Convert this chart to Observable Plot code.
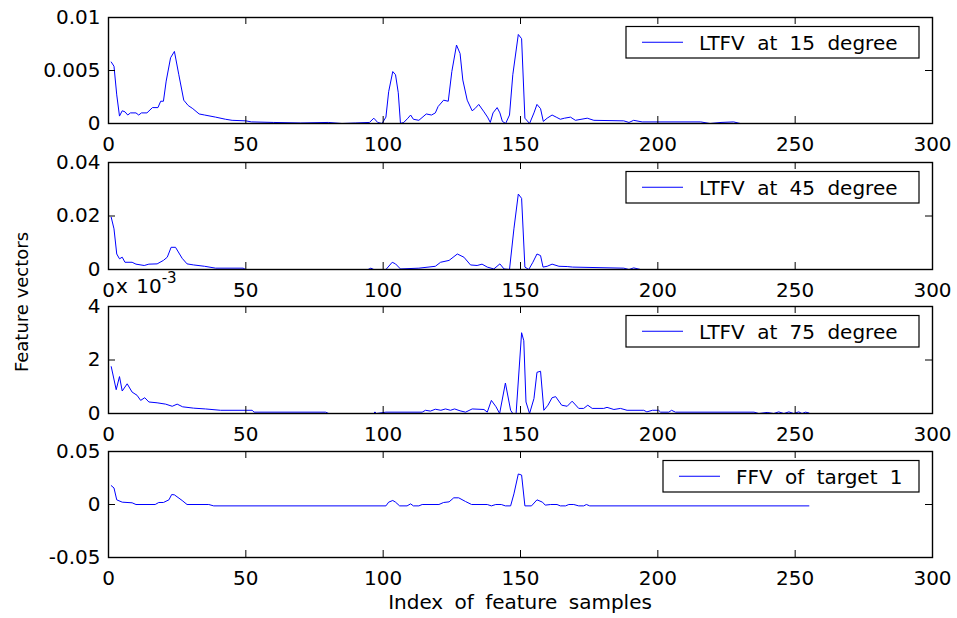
<!DOCTYPE html>
<html>
<head>
<meta charset="utf-8">
<script src="https://cdn.jsdelivr.net/npm/d3@7"></script>
<script src="https://cdn.jsdelivr.net/npm/@observablehq/plot@0.6"></script>
<style>
  html, body { margin: 0; padding: 0; background: white; }
  #root { position: relative; width: 957px; height: 618px; overflow: hidden; background: white; }
  .panel { position: absolute; left: 0; }
  #overlay { position: absolute; left: 0; top: 0; pointer-events: none; }
  svg text { font-family: "DejaVu Sans", sans-serif; }
</style>
</head>
<body>
<div id="root"></div>
<script>
// ---------------- DATA ----------------
const xTicks = [0, 50, 100, 150, 200, 250, 300];

const legend15 = "LTFV at 15 degree";
const legend45 = "LTFV at 45 degree";
const legend75 = "LTFV at 75 degree";
const legendF = "FFV of target 1";
const xTitle = "Index of feature samples";
const yTitle = "Feature vectors";

const y15Ticks = [0, 0.005, 0.01];
const y45Ticks = [0, 0.02, 0.04];
const y75Ticks = [0, 2, 4];          // in units of 10^-3
const yFTicks = [-0.05, 0, 0.05];

const ltfv15X = [1,2,3,4,5,6,7,8,10,11,12,14,16,18,19,20,21,22.6,24,25.6,27.4,29,30.7,33,35,39,42.6,45,50,52,60,70,80,85,90,95,96.6,98,99.6,101,102,103.5,104.5,105.5,106.3,107.5,109,110,111,113,115.7,117.6,119,120,122,123.7,125,126.7,128,129,130.6,132.4,133.4,134.8,136.7,138,139,140,141.5,142.5,143.4,144.6,146,147.2,149.2,150.4,151.6,153.3,154.9,156,157.3,158.3,159.7,161.5,163,164.5,166,168.2,170,174.3,176.7,187.6,189.5,191.2,194.3,215.6,219,223,227.6,230,255];
const ltfv15Y = [0.0058,0.0054,0.0027,0.0007,0.0012,0.0011,0.0008,0.0010,0.0010,0.0008,0.0010,0.0010,0.0015,0.0015,0.0021,0.0021,0.0040,0.0062,0.0068,0.0046,0.0022,0.0017,0.0014,0.0009,0.0008,0.0006,0.0004,0.0003,0.00025,0.00015,0.0001,0.00005,0.0001,0,0.00005,0.0001,0.0005,0.0001,0,0.0006,0.0030,0.0049,0.0046,0.0029,0,0.0001,0.0005,0.0008,0.0004,0.0003,0.0009,0.0008,0.0010,0.0016,0.0022,0.0021,0.0049,0.0074,0.0066,0.0041,0.0022,0.0012,0.0014,0.0018,0.0011,0.0006,0.0001,0.0010,0.0015,0.0010,0.0002,0,0.0008,0.0046,0.0084,0.0080,0.0005,0,0.0010,0.0018,0.0014,0.0002,0.0005,0.0008,0.0006,0.0004,0.0005,0.0006,0.0003,0.0005,0.0003,0.00025,0.0001,0.0003,0.00015,0.00015,0,0.0001,0.00015,0,0];

const ltfv45X = [1,2,3,4,5,6,8.6,10,13,14.7,17.7,20,21.4,22.8,24.4,26.8,28.6,31,35,39,49,50,94.5,95.5,96.6,101,103.3,104.5,106.3,113,119,120.9,124,127,129.4,131.8,134.2,136,137.9,140.3,142.5,144,146,147.6,149.2,150.4,151.6,153,154.5,156,157.3,158.2,159.7,161.5,164,167,169,187.6,189.5,191.2,193.7,255];
const ltfv45Y = [0.0195,0.0152,0.0058,0.0040,0.0046,0.0027,0.0027,0.0020,0.0015,0.0020,0.0021,0.0034,0.0046,0.0083,0.0083,0.0042,0.0021,0.0017,0.0012,0.0005,0.0005,0,0,0.0005,0,0,0.0027,0.0021,0.0002,0.0005,0.0012,0.0027,0.0034,0.0058,0.0046,0.0017,0.0015,0.0020,0.0009,0.0002,0.0021,0.0002,0,0.0152,0.0282,0.0266,0.0009,0,0.0027,0.0058,0.0052,0.0009,0.0012,0.0020,0.0012,0.0011,0.0009,0.0005,0,0.0006,0,0];

const ltfv75X = [1,2.8,4,5,6.8,8.6,10.4,11.7,13.2,14.7,17.7,20.8,23.2,25,27,31,35.3,40.8,52.3,53,79,80.2,96.6,97,97.5,101,114.2,115.4,117.2,119,121,122.7,124.5,126,128,130,132.4,136.7,137.9,139.4,141.1,142.4,144.5,146.4,147.2,148.4,150.4,151.2,152,153.3,154.9,156,157.3,158.5,160,161.5,162.8,165,167,168.8,171.2,173,174.5,176.1,180.3,181.5,184,186.4,188.8,194.9,196,198,200.3,201,204,205,206.4,235,236.8,239.8,242.2,244,245.9,247.7,249.5,251.3,252.5,253.8,255];
const ltfv75Y = [1.75,0.89,1.38,0.84,1.11,0.80,0.68,0.49,0.59,0.43,0.40,0.35,0.27,0.35,0.25,0.20,0.17,0.12,0.12,0.05,0.05,0,0,0.06,0,0.05,0.05,0.12,0.09,0.16,0.12,0.17,0.12,0.17,0.10,0.05,0.17,0.15,0.05,0.49,0.25,0,1.14,0.12,0,0,3.02,2.72,0.43,0,0.56,1.54,1.58,0.12,0.31,0.59,0.63,0.31,0.27,0.46,0.19,0.19,0.31,0.19,0.19,0.23,0.15,0.19,0.12,0.12,0.06,0.12,0.12,0.05,0.05,0.12,0.05,0.05,0,0.04,0,0.06,0,0.06,0,0.06,0,0.05,0.02];

const ffvX = [1,2,3,5,8.6,10,17,18.3,20,22,23,24,26.8,28.6,36.5,38.3,101,102,103.5,104.5,106,108.7,110,111,113,114.2,120.3,122,124,125.7,127.5,130,132.2,137.9,139.4,141,143,144.5,146.4,147.6,149.2,150.4,151.6,154,156,158,159,161,163.3,164.5,166.4,167.6,169.4,171.2,173,174,175.2,255];
const ffvY = [0.0178,0.0156,0.0044,0.0022,0.0016,0,0,0.0019,0.0019,0.0044,0.0094,0.0091,0.0038,0,0,-0.0013,-0.0013,0.0022,0.0038,0.0022,-0.0013,-0.0013,0.0006,-0.0013,-0.0013,0,0,0.0019,0.0025,0.0063,0.0063,0.0028,0,0,-0.0013,0,0,-0.0013,-0.0013,0.0100,0.0288,0.0278,-0.0013,-0.0013,0.0044,0.0022,-0.0006,0,0,-0.0013,-0.0013,0,0,-0.0013,-0.0013,0,-0.0013,-0.0013];

// ---------------- LAYOUT ----------------
const W = 957, ML = 108, MR = 25;
const innerW = W - ML - MR;
const FONT = "DejaVu Sans";

const panels = [
  {top: 0,   height: 145, mt: 17, mb: 22, xs: ltfv15X, ys: ltfv15Y, domain: [0, 0.01],  ticks: y15Ticks, legend: legend15, wide: true},
  {top: 145, height: 144, mt: 17, mb: 20, xs: ltfv45X, ys: ltfv45Y, domain: [0, 0.04],  ticks: y45Ticks, legend: legend45, wide: true},
  {top: 289, height: 144, mt: 17, mb: 20, xs: ltfv75X, ys: ltfv75Y, domain: [0, 4],     ticks: y75Ticks, legend: legend75, wide: true},
  {top: 433, height: 185, mt: 18, mb: 61, xs: ffvX,    ys: ffvY,    domain: [-0.05, 0.05], ticks: yFTicks, legend: legendF, wide: false}
];

const root = document.getElementById("root");
const fmt = d => String(d);

panels.forEach(p => {
  const innerH = p.height - p.mt - p.mb;
  const data = p.xs.map((x, i) => ({x, y: p.ys[i]}));
  const chart = Plot.plot({
    width: W, height: p.height,
    marginLeft: ML, marginRight: MR, marginTop: p.mt, marginBottom: p.mb,
    style: {fontFamily: FONT, fontSize: "20px", background: "transparent", color: "black", overflow: "visible"},
    x: {domain: [0, 300]},
    y: {domain: p.domain},
    marks: [
      Plot.line(data, {x: "x", y: "y", stroke: "#0000ff", strokeWidth: 1}),
      Plot.tickX(xTicks, {x: d => d, insetTop: innerH - 7, stroke: "black", strokeWidth: 1}),
      Plot.tickX(xTicks, {x: d => d, insetBottom: innerH - 7, stroke: "black", strokeWidth: 1}),
      Plot.tickY(p.ticks, {y: d => d, insetRight: innerW - 7, stroke: "black", strokeWidth: 1}),
      Plot.tickY(p.ticks, {y: d => d, insetLeft: innerW - 7, stroke: "black", strokeWidth: 1}),
      Plot.frame({stroke: "black", strokeWidth: 1.4}),
      Plot.axisX({ticks: xTicks, tickSize: 0, tickPadding: 13, fontSize: 20, tickFormat: fmt, label: null}),
      Plot.axisY({ticks: p.ticks, tickSize: 0, tickPadding: 8, fontSize: 20, tickFormat: fmt, label: null})
    ]
  });
  chart.classList.add("panel");
  chart.style.top = p.top + "px";
  chart.style.background = "transparent";
  root.appendChild(chart);

  // legend box (MATLAB style), top-right inside the frame
  const svg = d3.select(chart);
  const boxX = p.wide ? 626 : 663, boxR = 919;
  const boxY = p.mt + 9.5, boxH = 31.5;
  const g = svg.append("g").attr("text-anchor", "start");
  g.append("rect").attr("x", boxX).attr("y", boxY).attr("width", boxR - boxX).attr("height", boxH)
    .attr("fill", "white").attr("stroke", "black").attr("stroke-width", 1.2);
  const lx = boxX + 16;
  g.append("line").attr("x1", lx).attr("x2", lx + 41).attr("y1", boxY + boxH / 2).attr("y2", boxY + boxH / 2)
    .attr("stroke", "#0000ff").attr("stroke-width", 1);
  g.append("text").attr("x", lx + 57).attr("y", boxY + boxH / 2 + 7.5)
    .attr("text-anchor", "start")
    .attr("font-family", FONT).attr("font-size", 20).attr("fill", "black")
    .style("word-spacing", "6px").text(p.legend);
});

// overlay: axis titles and exponent label
const ov = d3.select(root).append("svg").attr("id", "overlay").attr("width", W).attr("height", 618);
ov.append("text").attr("x", 520).attr("y", 609).attr("text-anchor", "middle")
  .attr("font-family", FONT).attr("font-size", 20).style("word-spacing", "5px").text(xTitle);
ov.append("text").attr("transform", "translate(28,302) rotate(-90)").attr("text-anchor", "middle")
  .attr("font-family", FONT).attr("font-size", 18).text(yTitle);
const ex = ov.append("text").attr("x", 116).attr("y", 293).attr("text-anchor", "start")
  .attr("font-family", FONT).attr("font-size", 20).style("word-spacing", "2px");
ex.append("tspan").text("x 10");
ex.append("tspan").attr("dy", -10).attr("font-size", 15).text("-3");
</script>
</body>
</html>
